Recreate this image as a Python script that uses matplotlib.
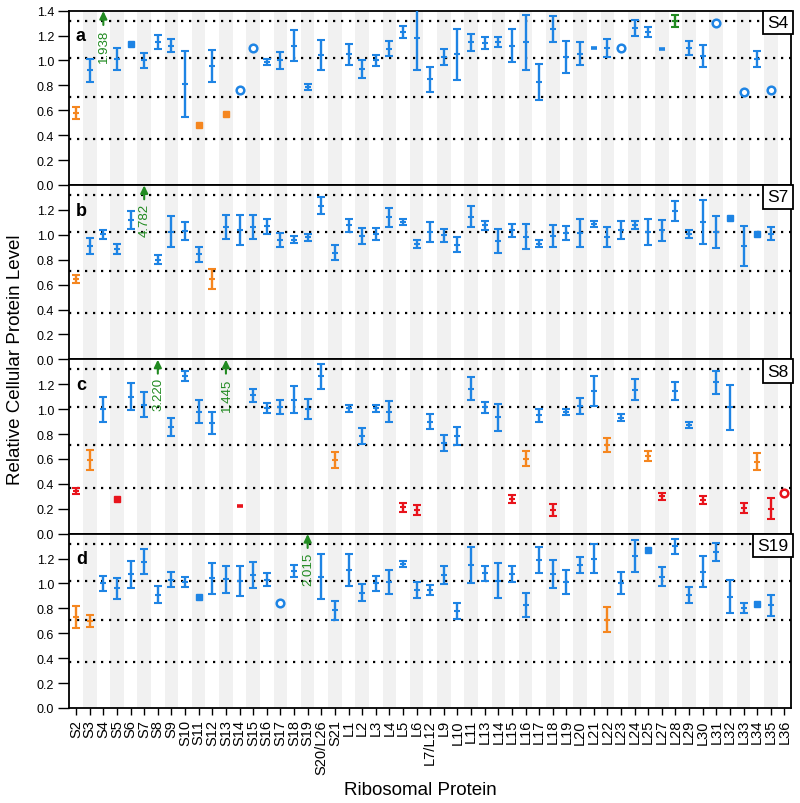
import matplotlib
matplotlib.use("Agg")
import matplotlib.pyplot as plt

plt.rcParams['font.family'] = ['Liberation Sans', 'DejaVu Sans']

# -----------------------------
# Data
# -----------------------------
proteins = ["S2", "S3", "S4", "S5", "S6", "S7", "S8", "S9", "S10", "S11", "S12",
            "S13", "S14", "S15", "S16", "S17", "S18", "S19", "S20/L26", "S21",
            "L1", "L2", "L3", "L4", "L5", "L6", "L7/L12", "L9", "L10", "L11", "L13",
            "L14", "L15", "L16", "L17", "L18", "L19", "L20", "L21", "L22", "L23",
            "L24", "L25", "L27", "L28", "L29", "L30", "L31", "L32", "L33", "L34",
            "L35", "L36"]

# kind: b/o/r/g = errorbar colour, "s" square, "d" dash, "c" open circle,
# "up" = off-scale value (arrow), "" = not measured
a_val = [0.58, 0.92, 1.938, 1.01, 1.13, 1.00, 1.15, 1.12, 0.81, 0.48, 0.955,
         0.57, 0.765, 1.10, 0.99, 1.00, 1.12, 0.79, 1.045, None,
         1.05, 0.93, 1.00, 1.095, 1.23, 1.18, 0.85, 1.03, 1.05, 1.145, 1.14,
         1.15, 1.12, 1.145, 0.83, 1.25, 1.03, 1.055, 1.098, 1.10, 1.098,
         1.26, 1.23, 1.09, 1.315, 1.10, 1.035, 1.297, None, 0.745, 1.01,
         0.76, None]
a_err = [0.05, 0.09, 0, 0.09, 0, 0.06, 0.055, 0.05, 0.265, 0, 0.13,
         0, 0, 0, 0.025, 0.07, 0.125, 0.025, 0.12, 0,
         0.085, 0.07, 0.045, 0.06, 0.05, 0.26, 0.10, 0.065, 0.205, 0.07, 0.05,
         0.04, 0.13, 0.22, 0.145, 0.105, 0.13, 0.09, 0, 0.075, 0,
         0.065, 0.04, 0, 0.05, 0.055, 0.09, 0, 0, 0, 0.065,
         0, 0]
a_kind = ["o", "b", "up", "b", "bs", "b", "b", "b", "b", "os", "b",
          "os", "bc", "bc", "b", "b", "b", "b", "b", "",
          "b", "b", "b", "b", "b", "b", "b", "b", "b", "b", "b",
          "b", "b", "b", "b", "b", "b", "b", "bd", "b", "bc",
          "b", "b", "bd", "g", "b", "b", "bc", "", "bc", "b",
          "bc", ""]

b_val = [0.645, 0.91, 1.005, 0.885, 1.12, 4.782, 0.80, 1.025, 1.03, 0.845, 0.645,
         1.06, 1.035, 1.06, 1.07, 0.96, 0.96, 0.98, 1.235, 0.855,
         1.075, 0.99, 1.005, 1.14, 1.10, 0.925, 1.02, 0.995, 0.92, 1.145, 1.075,
         0.95, 1.035, 0.985, 0.93, 0.99, 1.015, 1.015, 1.085, 0.985, 1.04,
         1.08, 1.02, 1.035, 1.19, 1.005, 1.105, 1.025, 1.132, 0.91, 1.006,
         1.01, None]
b_err = [0.03, 0.065, 0.035, 0.04, 0.075, 0, 0.035, 0.125, 0.07, 0.06, 0.08,
         0.095, 0.12, 0.095, 0.06, 0.055, 0.027, 0.03, 0.07, 0.06,
         0.055, 0.065, 0.05, 0.075, 0.025, 0.035, 0.08, 0.05, 0.06, 0.085, 0.035,
         0.10, 0.055, 0.10, 0.027, 0.085, 0.055, 0.11, 0.022, 0.08, 0.07,
         0.03, 0.105, 0.083, 0.083, 0.033, 0.175, 0.128, 0, 0.157, 0,
         0.054, 0]
b_kind = ["o", "b", "b", "b", "b", "up", "b", "b", "b", "b", "o",
          "b", "b", "b", "b", "b", "b", "b", "b", "b",
          "b", "b", "b", "b", "b", "b", "b", "b", "b", "b", "b",
          "b", "b", "b", "b", "b", "b", "b", "b", "b", "b",
          "b", "b", "b", "b", "b", "b", "b", "bs", "b", "bs",
          "b", ""]

c_val = [0.342, 0.59, 1.00, 0.275, 1.10, 1.035, 3.220, 0.858, 1.265, 0.98, 0.885,
         1.445, 0.221, 1.11, 1.01, 1.015, 1.077, 1.00, 1.265, 0.59,
         1.005, 0.785, 1.005, 0.98, 0.21, 0.19, 0.90, 0.727, 0.783, 1.165, 1.015,
         0.936, 0.28, 0.60, 0.95, 0.19, 0.98, 1.025, 1.145, 0.71, 0.932,
         1.155, 0.622, 0.30, 1.145, 0.873, 0.27, 1.215, 1.015, 0.205, 0.578,
         0.20, 0.329]
c_err = [0.027, 0.08, 0.10, 0, 0.107, 0.10, 0, 0.072, 0.04, 0.095, 0.088,
         0, 0, 0.055, 0.043, 0.058, 0.108, 0.083, 0.10, 0.063,
         0.03, 0.063, 0.025, 0.085, 0.036, 0.037, 0.06, 0.067, 0.07, 0.093, 0.045,
         0.109, 0.03, 0.06, 0.05, 0.05, 0.024, 0.062, 0.12, 0.057, 0.03,
         0.083, 0.038, 0.027, 0.075, 0.025, 0.03, 0.09, 0.18, 0.043, 0.068,
         0.084, 0]
c_kind = ["r", "o", "b", "rs", "b", "b", "up", "b", "b", "b", "b",
          "up", "rd", "b", "b", "b", "b", "b", "b", "o",
          "b", "b", "b", "b", "r", "r", "b", "b", "b", "b", "b",
          "b", "r", "o", "b", "r", "b", "b", "b", "o", "b",
          "b", "o", "r", "b", "b", "r", "b", "b", "r", "o",
          "r", "rc"]

d_val = [0.73, 0.70, 1.00, 0.96, 1.075, 1.175, 0.91, 1.03, 1.008, 0.892, 1.04,
         1.035, 1.02, 1.065, 1.03, 0.84, 1.10, 2.015, 1.055, 0.785,
         1.11, 0.925, 1.00, 1.015, 1.16, 0.95, 0.948, 1.066, 0.778, 1.148, 1.08,
         1.023, 1.076, 0.826, 1.187, 1.078, 1.012, 1.146, 1.20, 0.71, 1.007,
         1.218, 1.266, 1.055, 1.297, 0.91, 1.095, 1.252, 0.895, 0.802, 0.837,
         0.823, None]
d_err = [0.088, 0.05, 0.06, 0.082, 0.108, 0.10, 0.07, 0.058, 0.04, 0, 0.125,
         0.108, 0.118, 0.105, 0.052, 0, 0.046, 0, 0.183, 0.075,
         0.128, 0.068, 0.06, 0.096, 0.024, 0.064, 0.04, 0.072, 0.062, 0.145, 0.064,
         0.142, 0.062, 0.095, 0.106, 0.112, 0.099, 0.065, 0.115, 0.10, 0.088,
         0.129, 0, 0.075, 0.058, 0.065, 0.122, 0.073, 0.131, 0.038, 0,
         0.082, 0]
d_kind = ["o", "o", "b", "b", "b", "b", "b", "b", "b", "bs", "b",
          "b", "b", "b", "b", "bc", "b", "up", "b", "b",
          "b", "b", "b", "b", "b", "b", "b", "b", "b", "b", "b",
          "b", "b", "b", "b", "b", "b", "b", "b", "o", "b",
          "b", "bs", "b", "b", "b", "b", "b", "b", "b", "bs",
          "b", ""]

panels = [("a", "S4", a_val, a_err, a_kind),
          ("b", "S7", b_val, b_err, b_kind),
          ("c", "S8", c_val, c_err, c_kind),
          ("d", "S19", d_val, d_err, d_kind)]

ref_levels = [1.32, 1.02, 0.71, 0.37]

colors = {"b": "#1e84e4", "o": "#f5861f", "r": "#e8141c", "g": "#218a21"}

# -----------------------------
# Figure
# -----------------------------
fig, axes = plt.subplots(4, 1, sharex=True, figsize=(8, 8.04), dpi=100,
                         gridspec_kw=dict(hspace=0))
fig.subplots_adjust(left=0.0866, right=0.989, top=0.9855, bottom=0.1182)

xs = list(range(len(proteins)))

for n, (ax, (letter, tag, vals, errs, kinds)) in enumerate(zip(axes, panels)):
    # alternating column shading
    for i in xs:
        if i % 2 == 1:
            ax.axvspan(i - 0.5, i + 0.5, color="#f1f1f1", lw=0, zorder=0)
    for lv in ref_levels:
        ax.axhline(lv, color="black", lw=1.6, ls=(0, (1, 2.6)), zorder=1)

    for i, (v, e, k) in enumerate(zip(vals, errs, kinds)):
        if k == "":
            continue
        if k == "up":
            g = colors["g"]
            ax.annotate("", xy=(i, 1.397), xytext=(i, 1.285),
                        arrowprops=dict(arrowstyle="-|>,head_width=0.22,head_length=0.45",
                                        color=g, lw=1.5, shrinkA=0, shrinkB=0),
                        zorder=5)
            ax.text(i + 0.05, 1.255, f"{v:.3f}", rotation=90, color=g,
                    fontsize=9.5, ha="center", va="top", zorder=5)
            continue
        col = colors[k[0]]
        if len(k) == 1:
            ax.errorbar([i], [v], yerr=[e], fmt="_", color=col, ms=4, mew=1.5,
                        elinewidth=1.7, capsize=2.6, capthick=1.6, zorder=4)
        elif k[1] == "s":
            ax.plot(i, v, "s", color=col, ms=4.3, zorder=4)
        elif k[1] == "d":
            ax.plot(i, v, "_", color=col, ms=5, mew=2.6, zorder=4)
        elif k[1] == "c":
            ax.plot(i, v, "o", mfc="white", mec=col, ms=5.5, mew=1.8, zorder=4)

    ax.set_xlim(-0.5, len(proteins) - 0.5)
    ax.set_ylim(0, 1.4)
    ticks = [0, 0.2, 0.4, 0.6, 0.8, 1.0, 1.2] + ([1.4] if n == 0 else [])
    ax.set_yticks(ticks)
    ax.set_yticklabels([f"{t:.1f}" for t in ticks])
    ax.tick_params(axis="y", direction="out", length=8, width=1, labelsize=9, pad=3)
    if n < 3:
        ax.tick_params(axis="x", length=0)
    else:
        ax.tick_params(axis="x", direction="out", length=5, width=1, labelsize=10.5, pad=3)
    for sp in ax.spines.values():
        sp.set_linewidth(1.3)

    ax.text(0.009, 0.855, letter, transform=ax.transAxes, fontsize=13,
            fontweight="bold", ha="left", va="center", zorder=6)
    ax.text(0.996, 0.975, tag, transform=ax.transAxes, fontsize=12.5,
            ha="right", va="top", zorder=6,
            bbox=dict(boxstyle="square,pad=0.25", fc="white", ec="black", lw=1.3))

axes[-1].set_xticks(xs)
axes[-1].set_xticklabels(proteins, rotation=90)

fig.text(0.019, 0.552, "Relative Cellular Protein Level", rotation=90,
         fontsize=13.5, ha="center", va="center")
fig.text(0.525, 0.017, "Ribosomal Protein", fontsize=13.5, ha="center", va="center")

plt.savefig("out.png", dpi=100)
plt.close()
